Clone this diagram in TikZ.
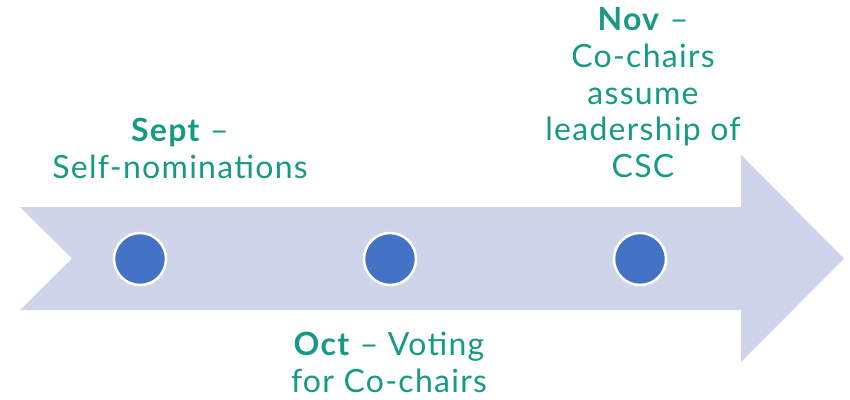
\documentclass[tikz,border=0pt]{standalone}
\usepackage{fontspec}
\setmainfont{Lato}[LetterSpace=4]
\definecolor{arrowfill}{HTML}{CED4EA}
\definecolor{dotblue}{HTML}{4472C4}
\definecolor{teal}{HTML}{179A84}
\begin{document}
\begin{tikzpicture}[x=1pt,y=-1pt,
  dot/.style={circle,fill=dotblue,draw=white,line width=2.5pt,minimum size=52pt,inner sep=0pt},
  label/.style={text=teal,align=center,inner sep=0pt,anchor=base,font=\fontsize{32}{36.7}\selectfont}]
\useasboundingbox (0,0) rectangle (850,399);
\fill[arrowfill] (20,207) -- (741,207) -- (741,155) -- (844,258.5) -- (741,362) -- (741,310) -- (20,310) -- (72,258.5) -- cycle;
\node[dot] (d1) at (140,259) {};
\node[dot] (d2) at (390,259) {};
\node[dot] (d3) at (640,259) {};
\node[label] (t1) at (180,178) {\textbf{Sept} –\\Self-nominations};
\node[label] (t2) at (389,392) {\textbf{Oct} – Voting\\for Co-chairs};
\node[label] (t3) at (643,177.5) {\textbf{Nov} –\\Co-chairs\\assume\\leadership of\\CSC};
\end{tikzpicture}
\end{document}
